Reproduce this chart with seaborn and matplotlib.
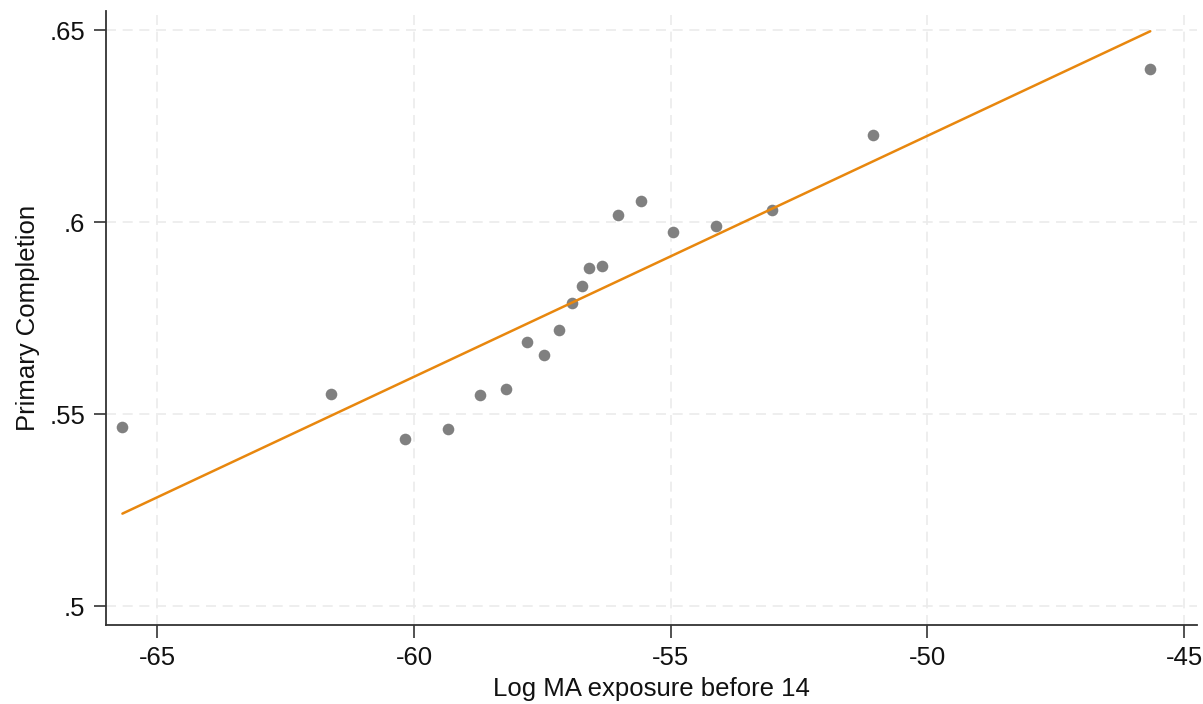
import numpy as np
import pandas as pd
import matplotlib
matplotlib.use("Agg")
import matplotlib.pyplot as plt
import seaborn as sns
from matplotlib.ticker import FuncFormatter

log_ma = [-65.68, -61.62, -60.18, -59.34, -58.72, -58.21, -57.80, -57.47, -57.18,
          -56.93, -56.73, -56.60, -56.34, -56.03, -55.58, -54.96, -54.12, -53.03,
          -51.07, -45.66]
completion = [0.5466, 0.5552, 0.5435, 0.5461, 0.5549, 0.5565, 0.5689, 0.5653, 0.5718,
              0.5790, 0.5834, 0.5881, 0.5886, 0.6018, 0.6054, 0.5974, 0.5990, 0.6031,
              0.6228, 0.6399]
# fitted line (from underlying data)
fit_x = [-65.68, -45.66]
fit_y = [0.5241, 0.6497]
x_ticks = [-65, -60, -55, -50, -45]
y_ticks = [0.50, 0.55, 0.60, 0.65]

df = pd.DataFrame({"x": log_ma, "y": completion})
fit = pd.DataFrame({"x": fit_x, "y": fit_y})

sns.set_style("white")
plt.rcParams["font.family"] = ["Liberation Sans", "DejaVu Sans"]
plt.rcParams["axes.unicode_minus"] = False

fig = plt.figure(figsize=(12.03, 7.04), dpi=100)
ax = fig.add_axes([0.0881, 0.1122, 0.9069, 0.8718])

sns.scatterplot(data=df, x="x", y="y", ax=ax, color="#808080", s=70,
                linewidth=0, zorder=3)
sns.lineplot(data=fit, x="x", y="y", ax=ax, color="#E8870E", lw=1.8, zorder=4)

ax.set_xlim(-66.0, -44.75)
ax.set_ylim(0.4951, 0.6549)
ax.set_xticks(x_ticks)
ax.set_yticks(y_ticks)
ax.xaxis.set_major_formatter(FuncFormatter(lambda v, p: f"{v:g}"))
ax.yaxis.set_major_formatter(FuncFormatter(lambda v, p: f"{v:g}".lstrip("0")))

ax.grid(True, color="#ebebeb", linestyle=(0, (6, 4)), linewidth=1.2)
ax.set_axisbelow(True)
for s in ["top", "right"]:
    ax.spines[s].set_visible(False)
for s in ["left", "bottom"]:
    ax.spines[s].set_color("#333333")
    ax.spines[s].set_linewidth(1.3)
ax.tick_params(axis="both", direction="out", length=9, width=1.2, color="#333333",
               labelsize=18.5, labelcolor="#111111", left=True, bottom=True, pad=6)

ax.set_xlabel("Log MA exposure before 14", fontsize=18.5, color="#111111", labelpad=5)
ax.set_ylabel("Primary Completion", fontsize=18.5, color="#111111", labelpad=7)

fig.savefig("out.png", dpi=100)
